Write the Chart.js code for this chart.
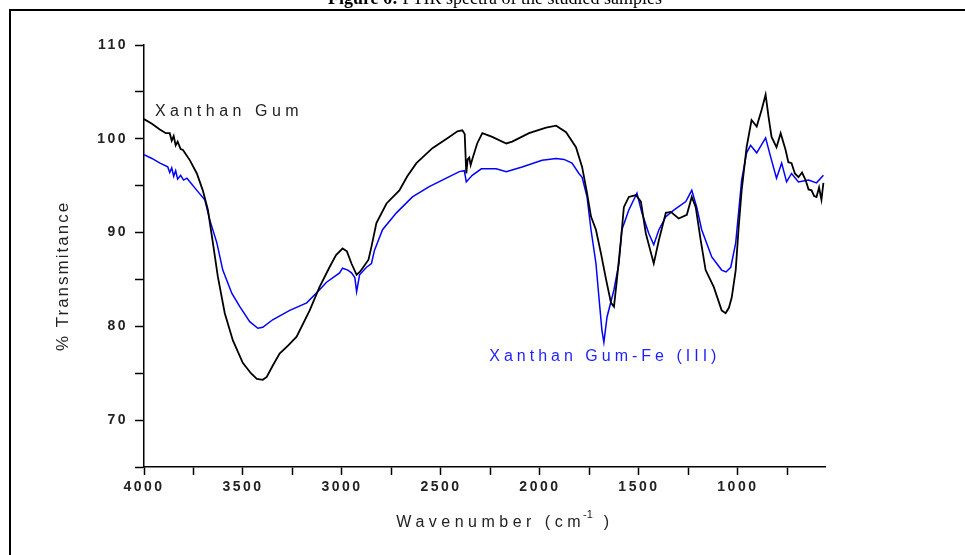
<!DOCTYPE html>
<html>
<head>
<meta charset="utf-8">
<script src="https://cdn.jsdelivr.net/npm/chart.js@4.4.1/dist/chart.umd.min.js"></script>
<style>
  body { margin: 0; background: #fff; }
  canvas { display: block; }
</style>
</head>
<body>
<canvas id="ftirChart" width="965" height="555"></canvas>
<script>
// Xanthan Gum (black)
const xgWave = [4000, 3960, 3920, 3890, 3870, 3860, 3850, 3840, 3830, 3815, 3803, 3768, 3733, 3703, 3677,
  3652, 3627, 3592, 3551, 3501, 3460, 3430, 3400, 3380, 3350, 3315, 3270, 3229, 3163, 3113, 3063, 3030,
  2997, 2975, 2952, 2926, 2910, 2896, 2866, 2851, 2826, 2775, 2710, 2670, 2624, 2543, 2458, 2417, 2392,
  2380, 2372, 2365, 2357, 2350, 2342, 2317, 2291, 2241, 2170, 2140, 2055, 1969, 1918, 1868, 1818, 1787,
  1762, 1742, 1717, 1692, 1666, 1641, 1626, 1611, 1591, 1576, 1551, 1515, 1490, 1465, 1425, 1399, 1364,
  1339, 1299, 1258, 1233, 1213, 1188, 1163, 1122, 1082, 1062, 1045, 1031, 1011, 996, 981, 956, 931, 905,
  880, 860, 845, 830, 805, 784, 759, 745, 729, 712, 694, 676, 658, 643, 628, 615, 603, 590, 578, 568];
const xgT = [102.1, 101.6, 101.0, 100.6, 100.6, 99.8, 100.3, 99.3, 99.7, 98.9, 98.8, 97.7, 96.3, 94.5, 92.4,
  88.9, 85.3, 81.4, 78.5, 76.1, 75.0, 74.4, 74.3, 74.6, 75.8, 77.1, 78.0, 78.9, 81.7, 84.2, 86.3, 87.6,
  88.3, 88.0, 86.7, 85.5, 85.8, 86.2, 87.1, 88.5, 91.0, 93.1, 94.5, 96.0, 97.4, 99.0, 100.2, 100.8, 100.9,
  100.5, 96.3, 97.8, 98.0, 97.2, 97.8, 99.5, 100.6, 100.2, 99.5, 99.7, 100.6, 101.2, 101.4, 100.7, 99.1, 97.0,
  94.2, 91.7, 90.3, 87.8, 85.0, 82.5, 82.1, 85.0, 89.2, 92.7, 93.8, 94.0, 93.3, 89.9, 86.7, 89.2, 92.1,
  92.2, 91.5, 91.9, 93.8, 92.7, 89.2, 86.0, 84.2, 81.7, 81.4, 82.0, 83.1, 86.0, 90.6, 94.5, 99.1, 102.0, 101.3,
  103.1, 104.7, 102.3, 100.2, 99.1, 100.6, 98.8, 97.5, 97.4, 96.3, 95.9, 96.4, 95.6, 94.6, 94.5, 93.9, 93.8, 94.8, 93.5, 95.3];

// Xanthan Gum-Fe (III) (blue)
const feWave = [4000, 3960, 3919, 3880, 3870, 3860, 3850, 3840, 3830, 3815, 3800, 3783, 3733, 3693, 3667,
  3632, 3602, 3556, 3516, 3466, 3425, 3400, 3350, 3264, 3178, 3113, 3078, 3012, 2997, 2970, 2952, 2935,
  2926, 2911, 2876, 2851, 2836, 2795, 2725, 2644, 2559, 2473, 2407, 2382, 2372, 2342, 2296, 2221, 2170,
  2090, 1989, 1918, 1878, 1838, 1803, 1787, 1762, 1742, 1717, 1702, 1687, 1677, 1661, 1626, 1601, 1586,
  1551, 1510, 1485, 1450, 1425, 1399, 1364, 1324, 1263, 1233, 1208, 1183, 1132, 1082, 1060, 1036, 1011,
  981, 956, 936, 905, 860, 835, 805, 779, 754, 729, 694, 643, 603, 568];
const feT = [98.3, 97.9, 97.4, 97.0, 96.4, 96.9, 96.0, 96.6, 95.7, 96.1, 95.6, 95.8, 94.5, 93.5, 91.3,
  88.9, 86.0, 83.5, 82.1, 80.5, 79.8, 79.9, 80.7, 81.7, 82.5, 83.9, 84.7, 85.7, 86.2, 86.0, 85.7, 85.2,
  83.7, 85.5, 86.3, 86.7, 88.1, 90.3, 92.1, 93.8, 94.9, 95.8, 96.5, 96.6, 95.4, 96.1, 96.8, 96.8, 96.5,
  97.0, 97.7, 97.9, 97.8, 97.4, 96.3, 95.9, 93.8, 90.3, 86.7, 83.1, 79.6, 78.3, 81.0, 83.9, 86.7, 90.3,
  92.4, 94.2, 92.1, 89.9, 88.7, 90.3, 91.7, 92.4, 93.3, 94.5, 92.7, 90.3, 87.4, 86.0, 85.8, 86.3, 88.9,
  95.6, 98.5, 99.3, 98.5, 100.1, 98.1, 95.8, 97.4, 95.4, 96.3, 95.4, 95.6, 95.3, 96.1];

// tick positions (minor ticks get an empty label)
const xTicks = [4000, 3750, 3500, 3250, 3000, 2750, 2500, 2250, 2000, 1750, 1500, 1250, 1000, 750];
const xMajorTicks = [4000, 3500, 3000, 2500, 2000, 1500, 1000];
const yMajorTicks = [70, 80, 90, 100, 110];

const toPoints = (xs, ys) => xs.map((x, i) => ({ x: x, y: ys[i] }));

// frame, caption, axis titles and curve labels
const decor = {
    id: 'decor',
    beforeDraw(chart) {
        chart.ctx.letterSpacing = '2.5px';
    },
    beforeDatasetsDraw(chart) {
        chart.ctx.letterSpacing = '0px';
    },
    afterDraw(chart) {
        const c = chart.ctx;
        const xs = chart.scales.x, ys = chart.scales.y;
        c.save();
        // page frame
        c.strokeStyle = '#000';
        c.lineWidth = 2;
        c.beginPath();
        c.moveTo(10, 560);
        c.lineTo(10, 10);
        c.lineTo(970, 10);
        c.stroke();

        // figure caption, cut off at the top
        c.fillStyle = '#000';
        c.textBaseline = 'alphabetic';
        c.textAlign = 'left';
        c.font = 'bold 18px "Liberation Serif"';
        const bold = 'Figure 6:';
        const rest = ' FTIR spectra of the studied samples';
        const wb = c.measureText(bold).width;
        c.font = '18px "Liberation Serif"';
        const wr = c.measureText(rest).width;
        let tx = 495 - (wb + wr) / 2;
        c.font = 'bold 18px "Liberation Serif"';
        c.fillText(bold, tx, 4);
        c.font = '18px "Liberation Serif"';
        c.fillText(rest, tx + wb, 4);

        // y axis title
        c.fillStyle = '#222';
        c.font = '17px "Liberation Sans"';
        c.letterSpacing = '2px';
        c.textAlign = 'center';
        c.textBaseline = 'middle';
        c.save();
        c.translate(63, 276);
        c.rotate(-Math.PI / 2);
        c.fillText('% Transmitance', 0, 0);
        c.restore();

        // x axis title with superscript
        c.letterSpacing = '4.5px';
        c.textAlign = 'left';
        const main = 'Wavenumber (cm';
        c.font = '16px "Liberation Sans"';
        const wm = c.measureText(main).width;
        c.font = '11px "Liberation Sans"';
        const ws = c.measureText('-1').width;
        c.font = '16px "Liberation Sans"';
        const wc = c.measureText(')').width;
        tx = 505 - (wm + ws + wc) / 2;
        c.fillText(main, tx, 523);
        c.font = '11px "Liberation Sans"';
        c.letterSpacing = '0px';
        c.fillText('-1', tx + wm - 2, 515);
        c.font = '16px "Liberation Sans"';
        c.fillText(')', tx + wm + ws, 523);

        // curve labels
        c.letterSpacing = '4.5px';
        c.fillStyle = '#222';
        c.fillText('Xanthan Gum', xs.getPixelForValue(3945), ys.getPixelForValue(102.85));
        c.letterSpacing = '4px';
        c.fillStyle = '#1f1fff';
        c.fillText('Xanthan Gum-Fe (III)', xs.getPixelForValue(2256), ys.getPixelForValue(76.8));
        c.restore();
    }
};

const ctx = document.getElementById('ftirChart').getContext('2d');
const ftirChart = new Chart(ctx, {
    type: 'line',
    data: {
        datasets: [{
            label: 'Xanthan Gum',
            data: toPoints(xgWave, xgT),
            borderColor: '#000000',
            borderWidth: 1.8,
            pointRadius: 0,
            tension: 0,
            fill: false
        }, {
            label: 'Xanthan Gum-Fe (III)',
            data: toPoints(feWave, feT),
            borderColor: '#0000ff',
            borderWidth: 1.5,
            pointRadius: 0,
            tension: 0,
            fill: false
        }]
    },
    options: {
        responsive: false,
        animation: false,
        devicePixelRatio: 1,
        layout: { padding: { left: 0, top: 45, right: 140, bottom: 0 } },
        plugins: {
            legend: { display: false },
            tooltip: { enabled: false }
        },
        scales: {
            x: {
                type: 'linear',
                reverse: true,
                min: 560,
                max: 4000,
                afterBuildTicks: s => { s.ticks = xTicks.map(v => ({ value: v })); },
                afterFit: s => { s.height = 88; },
                grid: { drawOnChartArea: false, drawTicks: true, tickLength: 8, tickColor: '#000', tickWidth: 1.5 },
                border: { display: true, color: '#000', width: 1.5 },
                ticks: {
                    autoSkip: false,
                    maxRotation: 0,
                    padding: 4,
                    color: '#222',
                    font: { family: 'Liberation Sans', size: 14, weight: 'bold' },
                    callback: v => xMajorTicks.includes(v) ? String(v) : ''
                }
            },
            y: {
                min: 65,
                max: 110,
                afterFit: s => { s.width = 144; },
                grid: { drawOnChartArea: false, drawTicks: true, tickLength: 9, tickColor: '#000', tickWidth: 1.5 },
                border: { display: true, color: '#000', width: 1.5 },
                ticks: {
                    stepSize: 5,
                    padding: 7,
                    color: '#222',
                    font: { family: 'Liberation Sans', size: 14, weight: 'bold' },
                    callback: v => yMajorTicks.includes(v) ? String(v) : ''
                }
            }
        }
    },
    plugins: [decor]
});
</script>
</body>
</html>
